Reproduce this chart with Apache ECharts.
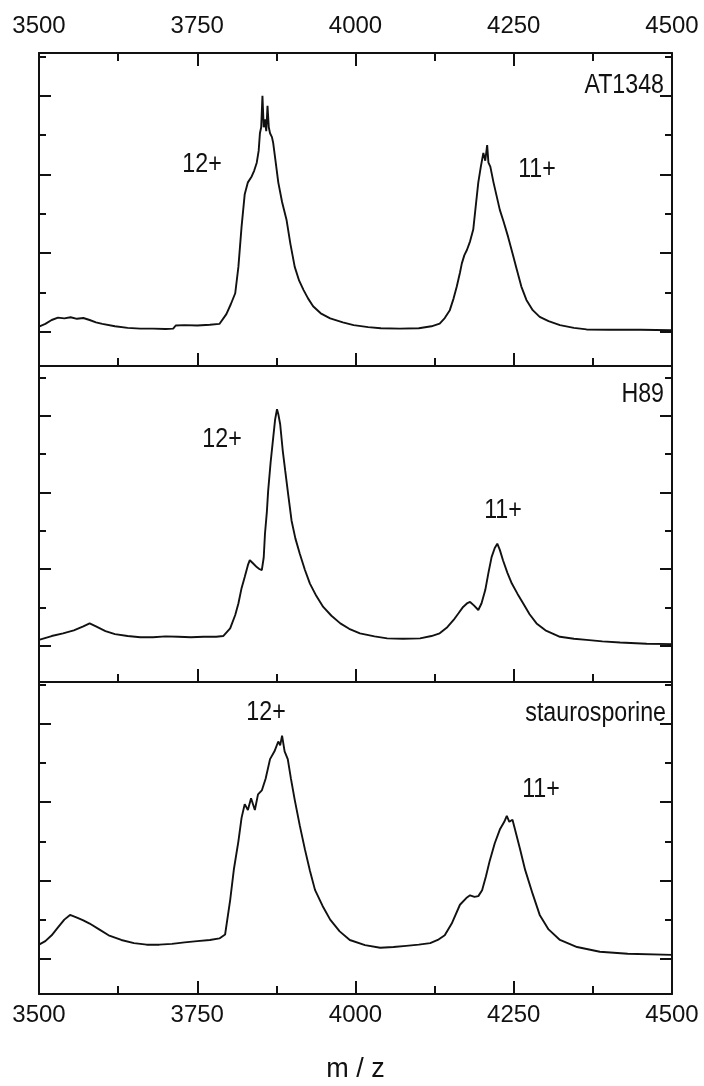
<!DOCTYPE html>
<html>
<head>
<meta charset="utf-8">
<script src="https://cdn.jsdelivr.net/npm/echarts@6/dist/echarts.min.js"></script>
<style>
html, body { margin: 0; padding: 0; background: #fff; }
#chart { width: 704px; height: 1086px; }
</style>
</head>
<body>
<div id="chart"></div>
<script>
// m/z ticks
var mzTicks = [3500, 3750, 4000, 4250, 4500];

// AT1348 spectrum (relative intensity, tick units)
var mzAT = [3500,3510,3520,3530,3540,3550,3560,3570,3580,3590,3600,3620,3640,3660,3680,3700,3712,3716,3730,3750,3770,3785,3796,3803,3810,3815,3820,3825,3830,3836,3840,3844,3847,3849,3851,3853,3855,3857,3859,3861,3863,3865,3868,3870,3874,3878,3884,3891,3897,3904,3911,3918,3925,3933,3945,3960,3980,3997,4020,4040,4070,4100,4120,4133,4141,4149,4155,4160,4165,4168,4172,4176,4181,4186,4190,4194,4198,4202,4205,4208,4210,4213,4218,4223,4228,4234,4241,4248,4255,4262,4270,4280,4291,4305,4323,4345,4365,4400,4450,4500];
var intAT = [0.13,0.2,0.3,0.36,0.34,0.37,0.33,0.35,0.3,0.24,0.2,0.14,0.1,0.08,0.08,0.07,0.08,0.16,0.17,0.16,0.18,0.2,0.45,0.7,0.98,1.65,2.67,3.5,3.8,3.95,4.1,4.3,4.6,5.05,5.2,6.0,5.2,5.4,5.1,5.75,5.2,5.05,4.95,4.8,4.3,3.8,3.3,2.85,2.25,1.65,1.3,1.06,0.85,0.65,0.47,0.34,0.24,0.17,0.12,0.09,0.08,0.09,0.14,0.21,0.35,0.55,0.85,1.15,1.5,1.74,1.95,2.08,2.3,2.6,3.2,3.8,4.2,4.55,4.35,4.75,4.3,4.2,3.8,3.45,3.1,2.8,2.42,2.0,1.57,1.15,0.81,0.55,0.38,0.27,0.17,0.1,0.06,0.05,0.05,0.04];

// H89 spectrum
var mzH89 = [3500,3520,3538,3555,3570,3580,3590,3605,3620,3640,3660,3680,3700,3720,3740,3760,3780,3791,3802,3810,3815,3820,3825,3830,3833,3838,3844,3848,3852,3855,3857,3860,3862,3866,3870,3873,3876,3878,3881,3885,3889,3894,3899,3905,3912,3920,3928,3938,3949,3962,3976,3990,4007,4030,4050,4075,4102,4120,4133,4145,4155,4163,4170,4176,4181,4187,4194,4199,4205,4210,4215,4220,4224,4228,4233,4240,4247,4256,4265,4275,4286,4300,4323,4345,4365,4390,4418,4460,4500];
var intH89 = [0.15,0.25,0.32,0.4,0.5,0.58,0.5,0.38,0.3,0.25,0.22,0.22,0.24,0.23,0.22,0.23,0.23,0.25,0.45,0.8,1.1,1.5,1.79,2.1,2.23,2.15,2.05,2.0,1.97,2.3,2.92,3.5,4.04,4.8,5.43,5.9,6.17,6.05,5.78,5.1,4.56,3.9,3.26,2.8,2.4,1.98,1.62,1.3,1.01,0.78,0.58,0.44,0.32,0.24,0.19,0.18,0.19,0.25,0.32,0.48,0.67,0.85,1.01,1.1,1.14,1.05,0.93,1.1,1.45,1.9,2.31,2.55,2.66,2.5,2.23,1.9,1.62,1.35,1.1,0.82,0.58,0.4,0.23,0.18,0.15,0.11,0.08,0.05,0.04];

// staurosporine spectrum
var mzStau = [3500,3510,3520,3530,3540,3549,3560,3570,3580,3595,3610,3630,3650,3670,3690,3710,3730,3750,3770,3785,3794,3802,3808,3815,3820,3825,3830,3835,3841,3846,3852,3858,3865,3872,3878,3881,3884,3888,3893,3898,3904,3912,3920,3928,3936,3948,3960,3975,3991,4015,4039,4060,4080,4100,4118,4130,4141,4152,4165,4175,4181,4188,4194,4200,4206,4212,4220,4228,4235,4239,4243,4248,4252,4260,4268,4280,4291,4305,4323,4350,4386,4430,4500];
var intStau = [0.36,0.45,0.6,0.8,1.0,1.12,1.05,0.98,0.9,0.75,0.6,0.48,0.4,0.36,0.36,0.38,0.42,0.45,0.48,0.52,0.62,1.5,2.3,3.0,3.6,3.95,3.8,4.1,3.8,4.2,4.3,4.6,5.1,5.3,5.55,5.45,5.7,5.3,5.1,4.6,4.06,3.4,2.8,2.25,1.76,1.35,1.0,0.7,0.48,0.35,0.28,0.3,0.33,0.36,0.4,0.48,0.6,0.9,1.38,1.55,1.62,1.58,1.6,1.75,2.1,2.5,2.95,3.3,3.5,3.65,3.5,3.55,3.3,2.8,2.27,1.65,1.12,0.75,0.48,0.3,0.18,0.13,0.1];

// panel labels
var panelNames = ['AT1348', 'H89', 'staurosporine'];
var majorY = [0, 2, 4, 6];
var minorY = [1, 3, 5, 7];

function pairs(xs, ys) {
    return xs.map(function (x, i) { return [x, ys[i]]; });
}

var chart = echarts.init(document.getElementById('chart'));
var font = "'Liberation Sans', Arial, sans-serif";
var ink = '#111';

var panels = [
    { top: 53, height: 313, min: -0.87, max: 7.09 },
    { top: 366, height: 316, min: -0.95, max: 7.3 },
    { top: 682, height: 312, min: -0.9, max: 7.07 }
];

var grids = [], xAxes = [], yAxes = [];
panels.forEach(function (p) {
    grids.push({ left: 39, right: 32, top: p.top, height: p.height, outerBoundsMode: 'none' });
});
panels.forEach(function (p) {
    grids.push({ left: 39, right: 32, top: p.top, height: p.height, outerBoundsMode: 'none' });
});

function mzLabel(v) { return String(v); }

// x axes of main grids: bottom + top
panels.forEach(function (p, i) {
    var last = i === 2;
    xAxes.push({
        gridIndex: i, type: 'value', position: 'bottom',
        min: 3500, max: 4500, interval: 250,
        name: last ? 'm / z' : '', nameLocation: 'middle', nameGap: 62,
        nameTextStyle: { fontFamily: font, fontSize: 27, color: ink },
        axisLine: { show: true, onZero: false, lineStyle: { color: ink, width: 2 } },
        axisTick: { show: true, inside: true, length: 13, lineStyle: { color: ink, width: 2 } },
        minorTick: { show: true, splitNumber: 2, length: 8, lineStyle: { color: ink, width: 2 } },
        axisLabel: { show: last, margin: 9, fontFamily: font, fontSize: 24, color: ink, formatter: mzLabel },
        splitLine: { show: false }
    });
    xAxes.push({
        gridIndex: i, type: 'value', position: 'top',
        min: 3500, max: 4500, interval: 250,
        axisLine: { show: true, onZero: false, lineStyle: { color: ink, width: 2 } },
        axisTick: { show: i === 0, inside: true, length: 13, lineStyle: { color: ink, width: 2 } },
        minorTick: { show: i === 0, splitNumber: 2, length: 8, lineStyle: { color: ink, width: 2 } },
        axisLabel: { show: i === 0, margin: 15, fontFamily: font, fontSize: 24, color: ink, formatter: mzLabel },
        splitLine: { show: false }
    });
});
// hidden x axes for the minor-tick grids
panels.forEach(function (p, i) {
    xAxes.push({ gridIndex: 3 + i, type: 'value', min: 3500, max: 4500, show: false });
});

function yAxis(gi, p, pos, ticks, len, line) {
    return {
        gridIndex: gi, type: 'value', position: pos,
        min: p.min, max: p.max,
        axisLine: { show: line, onZero: false, lineStyle: { color: ink, width: 2 } },
        axisTick: { show: true, inside: true, length: len, customValues: ticks, lineStyle: { color: ink, width: 2 } },
        axisLabel: { show: false },
        splitLine: { show: false }
    };
}
panels.forEach(function (p, i) {
    yAxes.push(yAxis(i, p, 'left', majorY, 12, true));
    yAxes.push(yAxis(i, p, 'right', majorY, 12, true));
});
panels.forEach(function (p, i) {
    yAxes.push(yAxis(3 + i, p, 'left', minorY, 7, false));
    yAxes.push(yAxis(3 + i, p, 'right', minorY, 7, false));
});

var spectra = [pairs(mzAT, intAT), pairs(mzH89, intH89), pairs(mzStau, intStau)];
var series = spectra.map(function (d, i) {
    return {
        name: panelNames[i], type: 'line', data: d,
        xAxisIndex: i * 2, yAxisIndex: i * 2,
        showSymbol: false, silent: true,
        lineStyle: { color: ink, width: 1.9 }
    };
});

// annotation text, slightly condensed like the original figure
function txt(x, y, s, align) {
    return {
        type: 'text', x: x, y: y, scaleX: 0.86,
        style: { text: s, fontFamily: font, fontSize: 27, fill: ink, align: align || 'center', verticalAlign: 'middle' }
    };
}

var option = {
    backgroundColor: '#fff',
    animation: false,
    grid: grids,
    xAxis: xAxes,
    yAxis: yAxes,
    series: series,
    graphic: [
        txt(664, 86, panelNames[0], 'right'),
        txt(202, 165, '12+'),
        txt(537, 170, '11+'),
        txt(664, 395, panelNames[1], 'right'),
        txt(222, 440, '12+'),
        txt(503, 511, '11+'),
        txt(666, 714, panelNames[2], 'right'),
        txt(266, 713, '12+'),
        txt(541, 790, '11+')
    ]
};
chart.setOption(option);
</script>
</body>
</html>
